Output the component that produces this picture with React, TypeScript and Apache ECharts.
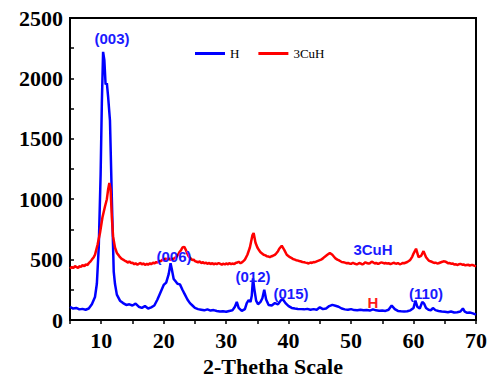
import React, { useEffect, useRef } from "react";
import * as echarts from "echarts";

const seriesNames = ["H", "3CuH"];

const hData: [number, number][] = [
  [5, 108], [5.5, 95], [6, 100], [6.5, 88], [7, 92], [7.5, 85], [8, 95], [8.5, 130], [9, 190], [9.3, 300], [9.6, 600], [9.9, 1200], [10.1, 1800], [10.3, 2220], [10.5, 2150], [10.7, 1950], [10.9, 1960], [11.1, 1850], [11.4, 1650], [11.7, 1000], [12, 400], [12.2, 300], [12.5, 210], [13, 160], [13.5, 140], [14, 125], [14.5, 130], [15, 120], [15.5, 135], [16, 110], [16.5, 100], [17, 115], [17.5, 95], [18, 105], [18.5, 120], [19, 170], [19.5, 230], [20, 290], [20.4, 310], [20.8, 380], [21.1, 470], [21.3, 420], [21.6, 340], [21.9, 320], [22.2, 300], [22.6, 295], [23, 250], [23.4, 210], [23.8, 170], [24.2, 140], [24.6, 120], [25, 100], [25.5, 90], [26, 85], [26.5, 80], [27, 88], [27.5, 78], [28, 82], [28.5, 75], [29, 70], [29.5, 72], [30, 68], [30.5, 75], [31, 80], [31.4, 110], [31.7, 150], [32, 100], [32.5, 75], [33, 90], [33.3, 140], [33.6, 165], [33.9, 150], [34.1, 200], [34.3, 345], [34.5, 260], [34.8, 160], [35.1, 130], [35.5, 150], [35.8, 180], [36.1, 250], [36.4, 170], [36.8, 125], [37.3, 120], [37.8, 140], [38.3, 130], [38.8, 165], [39.1, 170], [39.5, 140], [40, 115], [40.5, 100], [41, 95], [41.5, 92], [42, 90], [42.5, 88], [43, 92], [43.5, 85], [44, 90], [44.5, 85], [45, 105], [45.5, 90], [46, 95], [46.5, 115], [47, 125], [47.5, 118], [48, 110], [48.5, 95], [49, 88], [49.5, 85], [50, 90], [50.5, 82], [51, 80], [51.5, 85], [52, 80], [52.5, 82], [53, 78], [53.5, 88], [54, 80], [54.5, 76], [55, 78], [55.5, 75], [56, 85], [56.5, 120], [57, 90], [57.5, 75], [58, 72], [58.5, 70], [59, 72], [59.5, 80], [60, 100], [60.3, 160], [60.6, 110], [61, 95], [61.4, 150], [61.7, 135], [62, 100], [62.4, 85], [62.8, 80], [63.1, 100], [63.5, 82], [64, 75], [64.5, 70], [65, 68], [65.5, 65], [66, 70], [66.5, 62], [67, 65], [67.5, 70], [67.9, 95], [68.2, 70], [68.6, 60], [69, 62], [69.5, 55], [70, 45],
];

const cuhData: [number, number][] = [
  [5, 425], [5.3, 440], [5.5, 430], [5.8, 445], [6, 440], [6.3, 430], [6.5, 445], [6.8, 440], [7, 455], [7.3, 445], [7.5, 460], [7.8, 455], [8, 470], [8.3, 485], [8.5, 500], [8.8, 520], [9, 540], [9.4, 620], [9.8, 720], [10.2, 850], [10.6, 940], [10.9, 1000], [11.1, 1080], [11.3, 1135], [11.5, 1080], [11.7, 850], [11.9, 690], [12.2, 600], [12.5, 555], [12.8, 535], [13, 520], [13.3, 505], [13.5, 500], [13.8, 490], [14, 485], [14.3, 475], [14.5, 485], [14.8, 470], [15, 475], [15.3, 460], [15.5, 470], [15.8, 458], [16, 465], [16.3, 472], [16.5, 460], [16.8, 468], [17, 455], [17.3, 465], [17.5, 458], [17.8, 470], [18, 462], [18.3, 475], [18.5, 468], [18.8, 480], [19, 475], [19.3, 490], [19.5, 485], [19.8, 500], [20, 492], [20.3, 510], [20.5, 500], [20.8, 512], [21, 498], [21.3, 508], [21.5, 502], [21.8, 515], [22, 520], [22.3, 540], [22.5, 560], [22.8, 580], [23, 600], [23.3, 605], [23.5, 585], [23.7, 560], [23.9, 535], [24.1, 520], [24.4, 505], [24.6, 495], [24.8, 500], [25, 488], [25.3, 482], [25.5, 478], [25.8, 484], [26, 472], [26.3, 478], [26.5, 468], [26.8, 475], [27, 465], [27.3, 472], [27.5, 462], [27.8, 470], [28, 460], [28.3, 468], [28.5, 462], [28.8, 472], [29, 466], [29.3, 458], [29.5, 466], [29.8, 460], [30, 468], [30.3, 460], [30.5, 472], [30.8, 462], [31, 468], [31.3, 462], [31.5, 472], [31.8, 476], [32, 482], [32.3, 470], [32.5, 476], [32.8, 490], [33, 500], [33.4, 540], [33.8, 600], [34.2, 700], [34.4, 720], [34.7, 640], [35, 600], [35.3, 575], [35.5, 560], [35.8, 548], [36, 540], [36.3, 535], [36.5, 528], [36.8, 525], [37, 520], [37.3, 528], [37.5, 532], [37.8, 540], [38, 550], [38.3, 570], [38.5, 590], [38.9, 615], [39.3, 580], [39.7, 540], [40, 528], [40.2, 520], [40.5, 512], [40.7, 505], [41, 500], [41.2, 495], [41.5, 492], [41.7, 488], [42, 484], [42.2, 480], [42.5, 478], [42.7, 475], [43, 472], [43.2, 468], [43.5, 476], [43.7, 472], [44, 480], [44.2, 478], [44.5, 486], [44.7, 490], [45, 496], [45.2, 500], [45.5, 510], [45.7, 520], [46, 532], [46.2, 540], [46.6, 555], [47, 540], [47.3, 522], [47.5, 510], [47.8, 500], [48, 495], [48.3, 486], [48.5, 480], [48.8, 478], [49, 475], [49.3, 470], [49.5, 472], [49.8, 466], [50, 465], [50.3, 474], [50.5, 468], [50.8, 462], [51, 462], [51.3, 472], [51.5, 468], [51.8, 460], [52, 465], [52.3, 478], [52.5, 472], [52.8, 466], [53, 470], [53.3, 482], [53.5, 478], [53.8, 468], [54, 472], [54.3, 464], [54.5, 468], [54.8, 476], [55, 475], [55.3, 468], [55.5, 472], [55.8, 466], [56, 470], [56.3, 462], [56.5, 466], [56.8, 474], [57, 470], [57.3, 466], [57.5, 472], [57.8, 462], [58, 465], [58.3, 472], [58.5, 470], [58.8, 476], [59, 480], [59.3, 490], [59.5, 500], [59.8, 525], [60, 550], [60.4, 590], [60.8, 520], [61.2, 530], [61.6, 570], [62, 520], [62.3, 500], [62.5, 490], [62.8, 484], [63, 480], [63.3, 472], [63.5, 475], [63.8, 468], [64, 470], [64.3, 476], [64.5, 480], [64.8, 486], [65, 485], [65.3, 478], [65.5, 470], [65.8, 472], [66, 465], [66.3, 468], [66.5, 460], [66.8, 462], [67, 455], [67.3, 462], [67.5, 465], [67.8, 458], [68, 460], [68.3, 452], [68.5, 455], [68.8, 458], [69, 450], [69.3, 456], [69.5, 455], [69.8, 448], [70, 445],
];

const annotations = [
  { text: "(003)", x: 112, y: 38, color: "#1a1aff" },
  { text: "(006)", x: 174, y: 256, color: "#1a1aff" },
  { text: "(012)", x: 253, y: 276, color: "#1a1aff" },
  { text: "(015)", x: 291, y: 293, color: "#1a1aff" },
  { text: "H", x: 373, y: 302, color: "#ff1a1a" },
  { text: "(110)", x: 426, y: 293, color: "#1a1aff" },
  { text: "3CuH", x: 373, y: 249, color: "#1a1aff" },
];

export default function App() {
  const ref = useRef<HTMLDivElement>(null);
  useEffect(() => {
    const chart = echarts.init(ref.current!, null, { renderer: "svg" });
    const serif = "'Liberation Serif', 'Times New Roman', serif";
    chart.setOption({
      animation: false,
      backgroundColor: "#fff",
      grid: {
        left: 70, right: 16, top: 18, bottom: 58, show: true, borderColor: "#000", borderWidth: 2,
        outerBoundsMode: "none", containLabel: false,
      },
      legend: {
        left: 195, top: 47, padding: 0, itemWidth: 30, itemHeight: 3, itemGap: 19, icon: "rect",
        textStyle: { fontFamily: serif, fontSize: 13, color: "#000", padding: [1, 0, 0, 0] },
        data: seriesNames,
      },
      xAxis: {
        type: "value", min: 5, max: 70, interval: 5,
        name: "2-Thetha Scale", nameLocation: "middle", nameGap: 35,
        nameTextStyle: { fontFamily: serif, fontSize: 22, fontWeight: "bold", color: "#000" },
        axisLine: { lineStyle: { color: "#000", width: 2 } },
        axisTick: { length: 4, lineStyle: { color: "#000", width: 1.5 } },
        axisLabel: {
          margin: 9, fontFamily: serif, fontSize: 22, fontWeight: "bold", color: "#000",
          formatter: (v: number) => (v % 10 === 0 ? String(v) : ""),
        },
        splitLine: { show: false },
      },
      yAxis: {
        type: "value", min: 0, max: 2500, interval: 250,
        axisLine: { show: true, lineStyle: { color: "#000", width: 2 } },
        axisTick: { show: true, inside: true, length: 4, lineStyle: { color: "#000", width: 1.5 } },
        axisLabel: {
          margin: 7, fontFamily: serif, fontSize: 22, fontWeight: "bold", color: "#000",
          formatter: (v: number) => (v % 500 === 0 ? String(v) : ""),
        },
        splitLine: { show: false },
      },
      series: [
        { name: seriesNames[0], type: "line", data: hData, symbol: "none", lineStyle: { color: "#0000ff", width: 2.5 }, itemStyle: { color: "#0000ff" } },
        { name: seriesNames[1], type: "line", data: cuhData, symbol: "none", lineStyle: { color: "#ff0000", width: 2.5 }, itemStyle: { color: "#ff0000" } },
      ],
      graphic: annotations.map((a) => ({
        type: "text", x: a.x, y: a.y, z: 100,
        style: {
          text: a.text, fill: a.color, font: "bold 15px 'Liberation Sans', Arial, sans-serif",
          textAlign: "center", textVerticalAlign: "middle",
        },
      })),
    });
    return () => chart.dispose();
  }, []);
  return <div ref={ref} style={{ width: 492, height: 378, position: "absolute", left: 0, top: 0 }} />;
}
